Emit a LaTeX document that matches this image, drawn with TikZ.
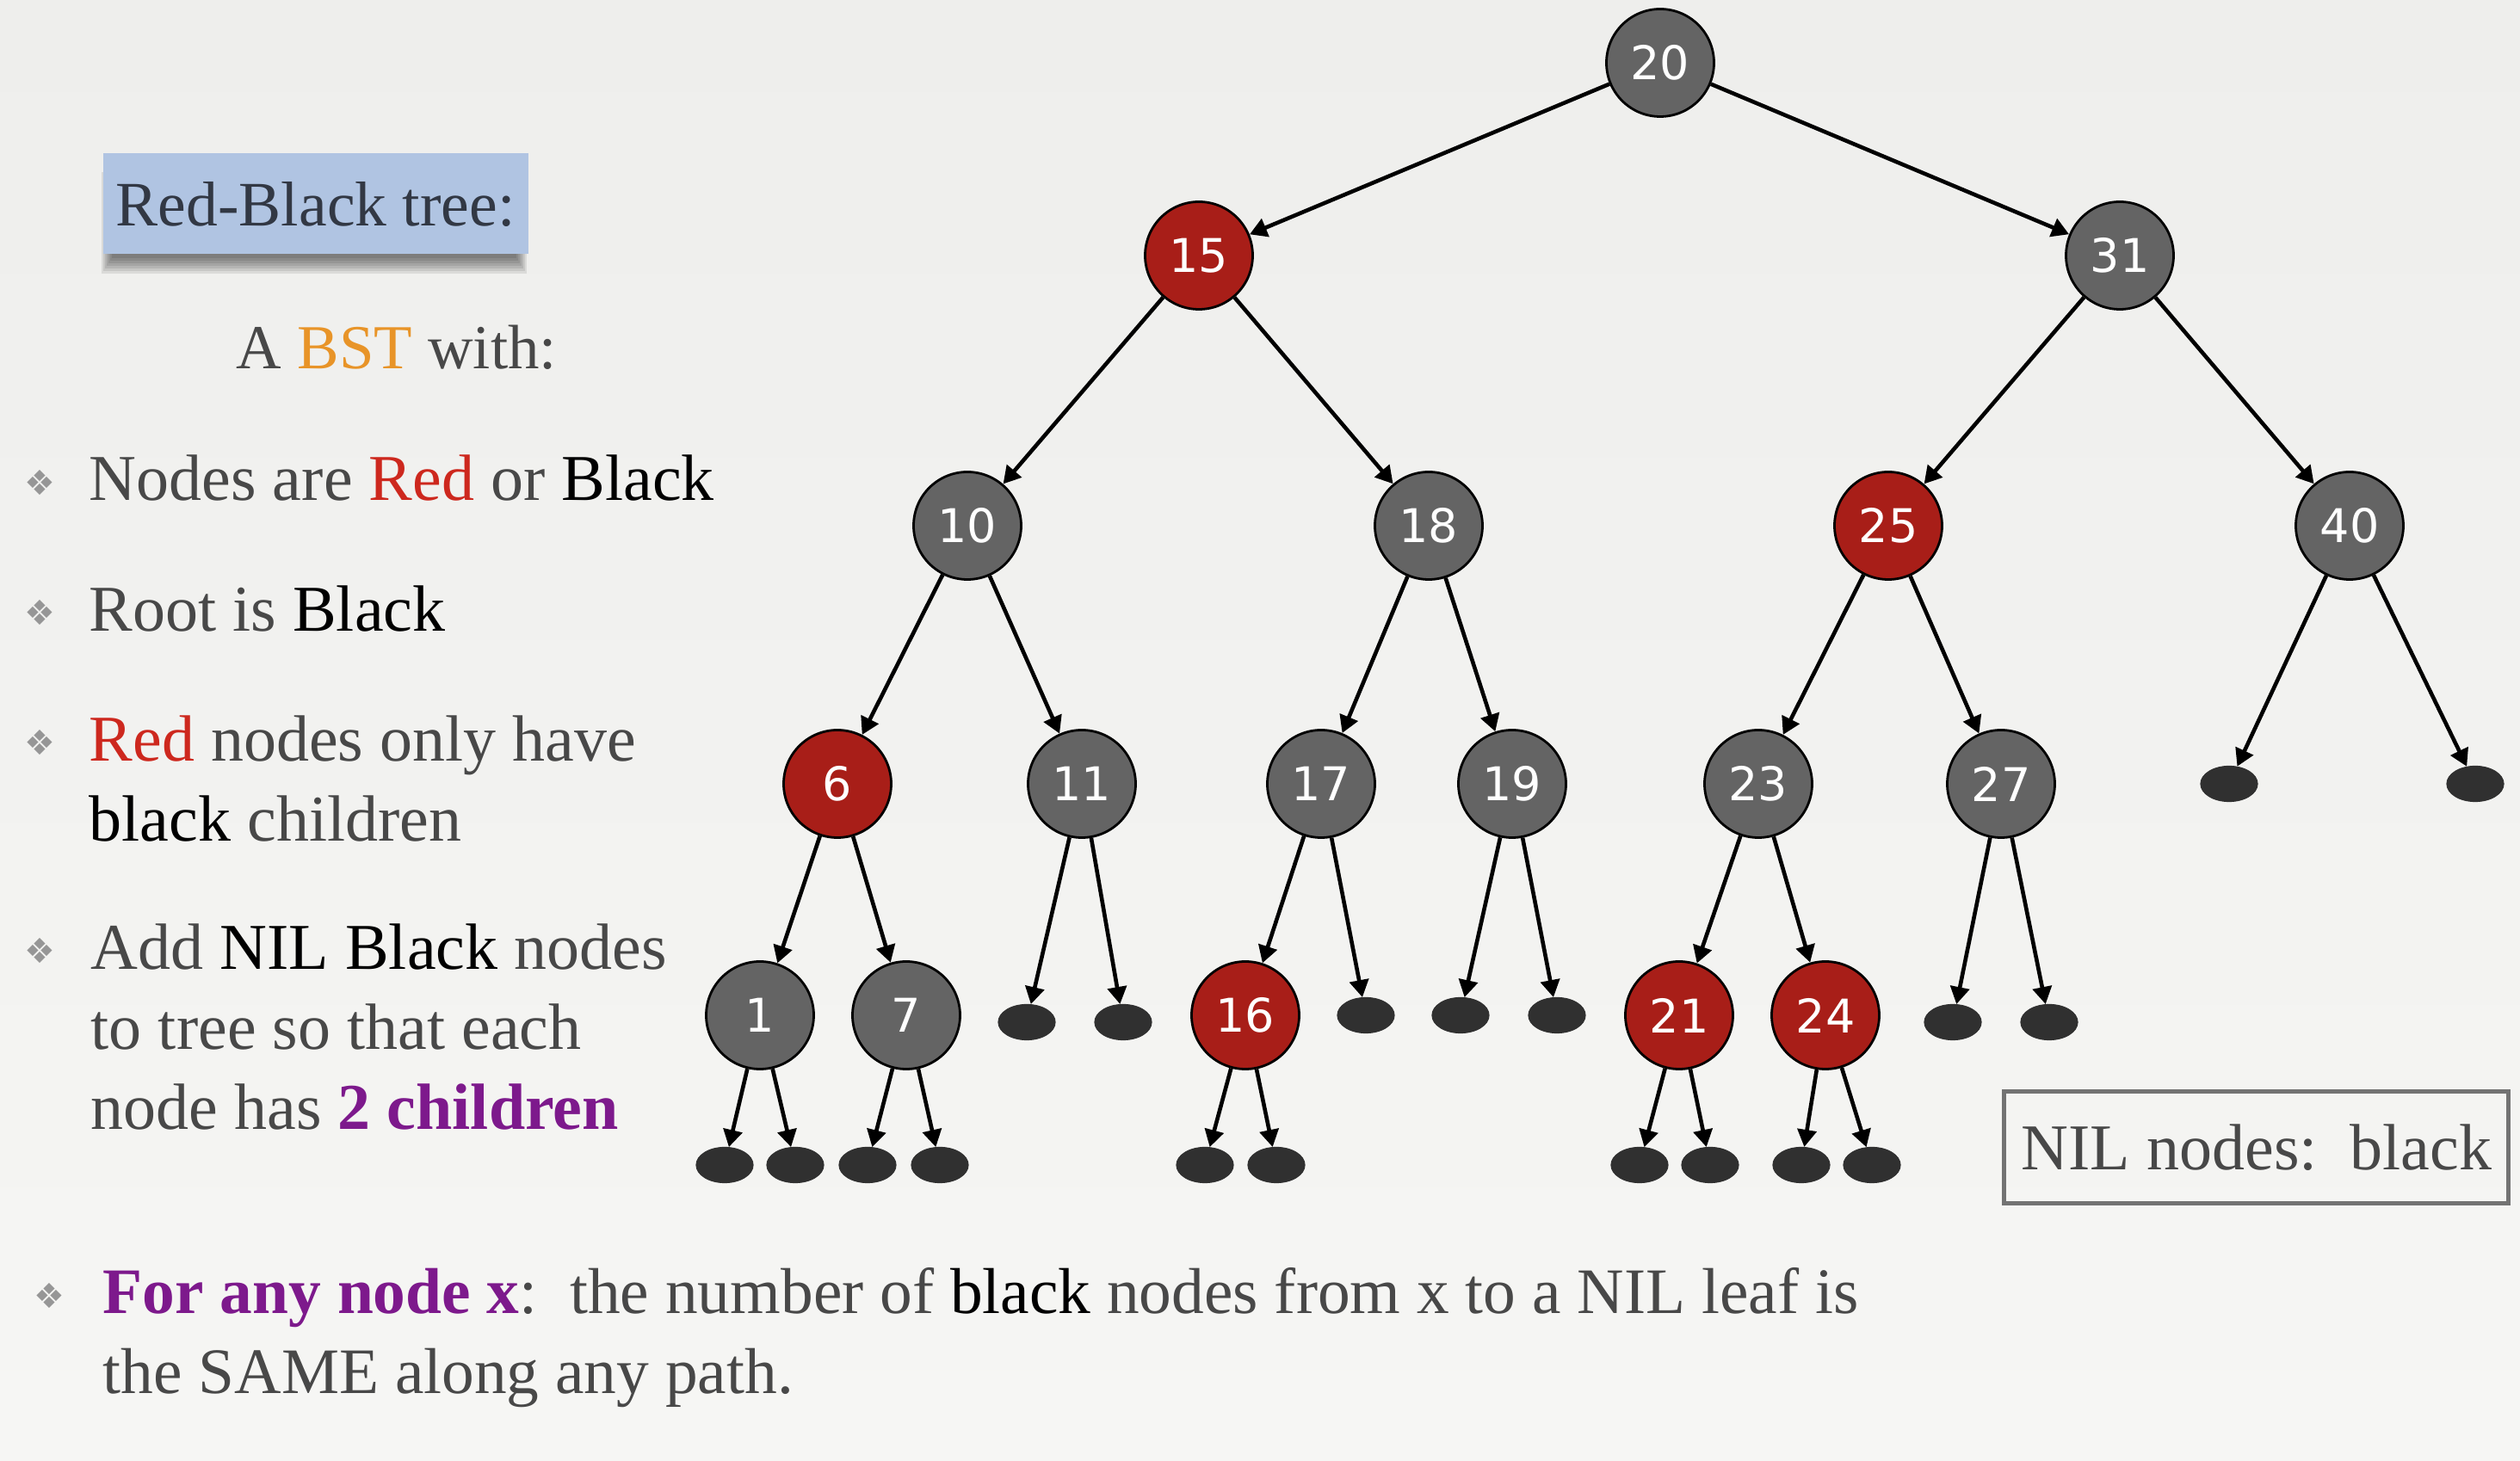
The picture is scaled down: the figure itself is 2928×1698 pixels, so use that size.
\documentclass[tikz,border=0pt]{standalone}
\usepackage{fontspec}
\setmainfont{Liberation Serif}
\newfontfamily\numfont{DejaVu Sans}
\newfontfamily\symfont{DejaVu Sans}
\usetikzlibrary{shapes.geometric,arrows.meta}
\definecolor{bg}{RGB}{238,238,236}
\definecolor{bgb}{RGB}{246,246,244}
\definecolor{ngray}{RGB}{100,100,100}
\definecolor{nred}{RGB}{168,30,24}
\definecolor{nilc}{RGB}{48,48,48}
\definecolor{txtg}{RGB}{72,72,72}
\definecolor{tred}{RGB}{205,40,30}
\definecolor{tpurple}{RGB}{125,25,140}
\definecolor{torange}{RGB}{232,148,40}
\definecolor{boxblue}{RGB}{176,196,226}
\definecolor{titlec}{RGB}{50,56,68}
\definecolor{boxgray}{RGB}{115,115,115}
\definecolor{bulc}{RGB}{150,150,150}
\tikzset{
  rb/.style={circle, draw=black, line width=0.7pt, minimum size=31.25pt, inner sep=0pt,
    text=white, font=\numfont\fontsize{13.5}{14}\selectfont},
  bk/.style={rb, fill=ngray},
  rd/.style={rb, fill=nred},
  nilnode/.style={ellipse, fill=nilc, draw=nilc, line width=0.3pt, minimum width=16.5pt, minimum height=10.25pt, inner sep=0pt},
  edge/.style={line width=1.15pt, -{Triangle[length=5pt,width=5.5pt]}},
  txt/.style={inner sep=0pt, anchor=base west, text=txtg, font=\fontsize{19}{22}\selectfont},
  bul/.style={inner sep=0pt, text=bulc, font=\symfont\fontsize{10}{11}\selectfont},
}
\begin{document}
\begin{tikzpicture}[x=0.25pt,y=-0.25pt]
\shade[top color=bg, bottom color=bgb] (0,0) rectangle (2928,1698);
\useasboundingbox (0,0) rectangle (2928,1698);

% soft shadow of the title box
\foreach \i in {0,...,6}
  \fill[black, opacity=0.085] (118+2*\i,200) rectangle (612-2*\i,318-3*\i);
% title box
\node[fill=boxblue, minimum width=123.5pt, minimum height=29.25pt, inner sep=0pt] (title) at (367,236.5) {};
\node[txt, text=titlec, font=\fontsize{18.4}{22}\selectfont] (titletxt) at (134,263) {Red-Black tree:};

\node[txt, font=\fontsize{18.2}{22}\selectfont] (bst) at (274,429) {A \textcolor{torange}{BST} with:};

\node[bul] (b1) at (46,561) {❖};
\node[txt] (t1) at (103,582) {Nodes are \textcolor{tred}{Red} or \textcolor{black}{Black}};
\node[bul] (b2) at (46,712) {❖};
\node[txt] (t2) at (103,734) {Root is \textcolor{black}{Black}};
\node[bul] (b3) at (46,863) {❖};
\node[txt] (t3) at (103,885) {\textcolor{tred}{Red} nodes only have};
\node[txt] (t3b) at (103,978) {\textcolor{black}{black} children};
\node[bul] (b4) at (46,1105) {❖};
\node[txt] (t4) at (105,1127) {Add \textcolor{black}{NIL Black} nodes};
\node[txt] (t4b) at (105,1220) {to tree so that each};
\node[txt] (t4c) at (105,1313) {node has \textcolor{tpurple}{\bfseries 2 children}};
\node[bul] (b5) at (57,1506) {❖};
\node[txt, font=\fontsize{18.85}{22}\selectfont] (t5) at (119,1527) {\textcolor{tpurple}{\bfseries For any node x}:\ \ the number of \textcolor{black}{black} nodes from x to a NIL leaf is};
\node[txt, font=\fontsize{18.85}{22}\selectfont] (t5b) at (119,1620) {the SAME along any path.};

% NIL legend
\node[draw=boxgray, line width=1.25pt, minimum width=146.5pt, minimum height=32.5pt, inner sep=0pt] (legend) at (2621,1334) {};
\node[txt] (legtxt) at (2348,1360) {NIL nodes:\ \ black};

% tree nodes
\node[bk] (n20) at (1929,73) {20};
\node[rd] (n15) at (1393,297) {15};
\node[bk] (n31) at (2463,297) {31};
\node[bk] (n10) at (1124,611) {10};
\node[bk] (n18) at (1660,611) {18};
\node[rd] (n25) at (2194,611) {25};
\node[bk] (n40) at (2730,611) {40};
\node[rd] (n6) at (973,911) {6};
\node[bk] (n11) at (1257,911) {11};
\node[bk] (n17) at (1535,911) {17};
\node[bk] (n19) at (1757,911) {19};
\node[bk] (n23) at (2043,911) {23};
\node[bk] (n27) at (2325,911) {27};
\node[bk] (n1) at (883,1180) {1};
\node[bk] (n7) at (1053,1180) {7};
\node[rd] (n16) at (1447,1180) {16};
\node[rd] (n21) at (1951,1180) {21};
\node[rd] (n24) at (2121,1180) {24};

% NIL nodes
\node[nilnode] (l40a) at (2590,911) {};
\node[nilnode] (l40b) at (2876,911) {};
\node[nilnode] (l11a) at (1193,1188) {};
\node[nilnode] (l11b) at (1305,1188) {};
\node[nilnode] (l17) at (1587,1180) {};
\node[nilnode] (l19a) at (1697,1180) {};
\node[nilnode] (l19b) at (1809,1180) {};
\node[nilnode] (l27a) at (2269,1188) {};
\node[nilnode] (l27b) at (2381,1188) {};
\node[nilnode] (l1a) at (842,1354) {};
\node[nilnode] (l1b) at (924,1354) {};
\node[nilnode] (l7a) at (1008,1354) {};
\node[nilnode] (l7b) at (1092,1354) {};
\node[nilnode] (l16a) at (1400,1354) {};
\node[nilnode] (l16b) at (1483,1354) {};
\node[nilnode] (l21a) at (1905,1354) {};
\node[nilnode] (l21b) at (1987,1354) {};
\node[nilnode] (l24a) at (2093,1354) {};
\node[nilnode] (l24b) at (2175,1354) {};

% edges
\foreach \a/\b in {n20/n15, n20/n31, n15/n10, n15/n18, n31/n25, n31/n40,
  n10/n6, n10/n11, n18/n17, n18/n19, n25/n23, n25/n27, n40/l40a, n40/l40b,
  n6/n1, n6/n7, n11/l11a, n11/l11b, n17/n16, n17/l17, n19/l19a, n19/l19b,
  n23/n21, n23/n24, n27/l27a, n27/l27b, n1/l1a, n1/l1b, n7/l7a, n7/l7b,
  n16/l16a, n16/l16b, n21/l21a, n21/l21b, n24/l24a, n24/l24b}
  \draw[edge] (\a) -- (\b);
\end{tikzpicture}
\end{document}
